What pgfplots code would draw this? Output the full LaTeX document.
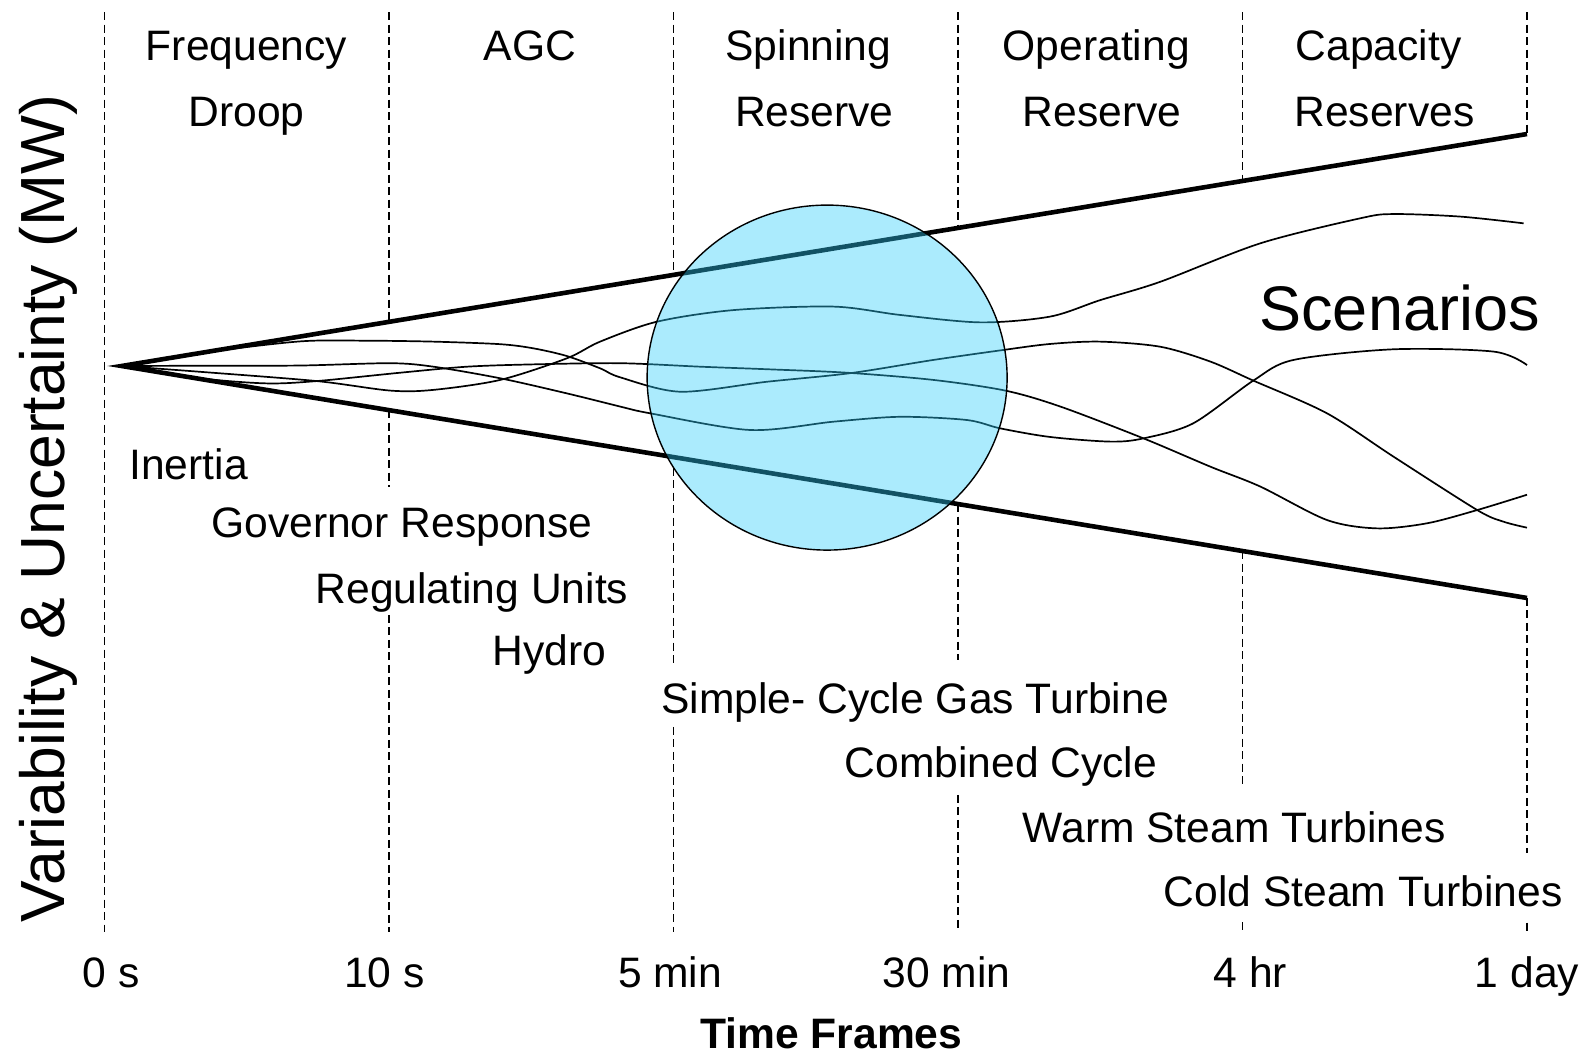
\documentclass[border=0pt]{standalone}
\usepackage{fontspec}
\setmainfont{Liberation Sans}
\usepackage{pgfplots}
\pgfplotsset{compat=1.18}

\definecolor{reservefill}{RGB}{45,205,250}
\newcommand\lbl{\fontsize{21.3}{25}\selectfont}
\tikzset{
  dashline/.style={black, line width=0.7pt, dash pattern=on 4pt off 2.25pt},
  scen/.style={black, line width=0.85pt, smooth, tension=0.5},
  txt/.style={font=\lbl, inner sep=0pt},
}

\begin{document}
\begin{tikzpicture}
\useasboundingbox (-52.25pt,-62pt) rectangle (742.75pt,466pt);
\begin{axis}[
  at={(0,0)}, anchor=south west,
  width=711.25pt, height=460pt, scale only axis,
  xmin=0, xmax=5, ymin=-24.4, ymax=15.26,
  clip=false,
  axis line style={draw=none},
  major tick length=0pt,
  xtick={0.023,0.984,1.988,2.959,4.028,5},
  xticklabels={0 s,10 s,5 min,30 min,4 hr,1 day},
  ytick=\empty,
  xticklabel style={font=\lbl, anchor=base, inner sep=0pt, yshift=-27.5pt},
  xlabel={Time Frames},
  xlabel style={font=\lbl\bfseries, at={(axis description cs:0.511,-0.1261)}, anchor=base, inner sep=0pt},
  ylabel={Variability \& Uncertainty (MW)},
  ylabel style={font=\fontsize{31.2}{36}\selectfont, at={(axis description cs:-0.0278,0.46)}, anchor=base, inner sep=0pt},
  unbounded coords=jump,
]

% time frame separators (broken where the cone and the labels sit)
\addplot[dashline] coordinates {(0,15.26) (0,-24.4)};
\addplot[dashline] coordinates {(1,15.26) (1,1.90) (1,nan) (1,-1.90) (1,-5.22) (1,nan) (1,-10.73) (1,-24.4)};
\addplot[dashline] coordinates {(2,15.26) (2,3.93) (2,nan) (2,-4.38) (2,-12.8) (2,nan) (2,-15.56) (2,-24.4)};
\addplot[dashline] coordinates {(3,15.26) (3,5.95) (3,nan) (3,-5.95) (3,-12.67) (3,nan) (3,-18.49) (3,-24.4)};
\addplot[dashline] coordinates {(4,15.26) (4,7.98) (4,nan) (4,-7.98) (4,-18.15) (4,nan) (4,-23.97) (4,-24.4)};
\addplot[dashline] coordinates {(5,15.26) (5,10) (5,nan) (5,-10) (5,-20.99) (5,nan) (5,-24.0) (5,-24.4)};

% scenarios
\addplot[scen] coordinates {(0.06,0) (0.336,-0.25) (0.746,-0.65) (1.004,-1.06) (1.156,-1.03) (1.391,-0.60) (1.625,0.33) (1.742,1.05) (1.942,1.91) (2.211,2.41) (2.563,2.56) (2.797,2.20) (3.080,1.88) (3.324,2.13) (3.500,2.84) (3.711,3.63) (4.063,5.29) (4.415,6.37) (4.531,6.55) (4.766,6.44) (4.988,6.15)};
\addplot[scen] coordinates {(0.06,0) (0.336,-0.53) (0.570,-0.75) (0.746,-0.65) (1.039,-0.29) (1.274,-0.03) (1.508,0.07) (1.813,0.12) (2.094,-0.03) (2.328,-0.14) (2.610,-0.29) (2.913,-0.60) (3.166,-1.06) (3.360,-1.75) (3.652,-3.12) (3.887,-4.34) (4.063,-5.20) (4.297,-6.64) (4.473,-7.00) (4.649,-6.78) (4.825,-6.21) (5.0,-5.55)};
\addplot[scen] coordinates {(0.06,0) (0.336,0.56) (0.687,1.06) (0.922,1.09) (1.156,1.05) (1.391,0.94) (1.508,0.76) (1.625,0.43) (1.742,-0.10) (1.813,-0.49) (2.024,-1.11) (2.328,-0.68) (2.621,-0.31) (2.913,0.26) (3.159,0.69) (3.324,0.95) (3.500,1.05) (3.711,0.83) (3.887,0.19) (4.038,-0.63) (4.297,-2.04) (4.531,-3.91) (4.825,-6.21) (4.917,-6.71) (5.0,-6.97)};
\addplot[scen] coordinates {(0.06,0) (0.336,0.01) (0.687,0.02) (1.004,0.12) (1.156,-0.03) (1.391,-0.53) (1.625,-1.18) (1.813,-1.75) (1.918,-2.04) (2.270,-2.76) (2.563,-2.40) (2.797,-2.19) (3.032,-2.33) (3.149,-2.69) (3.324,-3.06) (3.536,-3.26) (3.652,-3.12) (3.827,-2.47) (4.038,-0.63) (4.179,0.26) (4.531,0.72) (4.883,0.62) (5.0,0.04)};

% uncertainty cone
\addplot[black, line width=2.3pt, line join=miter] coordinates {(5,10) (0.06,0) (5,-10)};

% spinning reserve window
\draw[black, line width=0.7pt, fill=reservefill, fill opacity=0.4] (axis cs:2.540,-0.50) ellipse [x radius=90pt, y radius=86.25pt];

% column headers
\node[txt, anchor=base] at (axis cs:0.499,13.15) {Frequency};
\node[txt, anchor=base] at (axis cs:0.499,10.33) {Droop};
\node[txt, anchor=base] at (axis cs:1.496,13.15) {AGC};
\node[txt, anchor=base] at (axis cs:2.474,13.15) {Spinning};
\node[txt, anchor=base] at (axis cs:2.495,10.33) {Reserve};
\node[txt, anchor=base] at (axis cs:3.486,13.15) {Operating};
\node[txt, anchor=base] at (axis cs:3.507,10.33) {Reserve};
\node[txt, anchor=base] at (axis cs:4.478,13.15) {Capacity};
\node[txt, anchor=base] at (axis cs:4.499,10.33) {Reserves};

\node[inner sep=0pt, anchor=base, font=\fontsize{31.5}{36}\selectfont] at (axis cs:4.552,1.55) {Scenarios};

% resources
\node[txt, anchor=base west] at (axis cs:0.086,-4.91) {Inertia};
\node[txt, anchor=base west] at (axis cs:0.374,-7.41) {Governor Response};
\node[txt, anchor=base west] at (axis cs:0.741,-10.22) {Regulating Units};
\node[txt, anchor=base west] at (axis cs:1.362,-12.93) {Hydro};
\node[txt, anchor=base west] at (axis cs:1.956,-15.0) {Simple- Cycle Gas Turbine};
\node[txt, anchor=base west] at (axis cs:2.600,-17.76) {Combined Cycle};
\node[txt, anchor=base west] at (axis cs:3.226,-20.56) {Warm Steam Turbines};
\node[txt, anchor=base west] at (axis cs:3.722,-23.32) {Cold Steam Turbines};
\end{axis}
\end{tikzpicture}
\end{document}
